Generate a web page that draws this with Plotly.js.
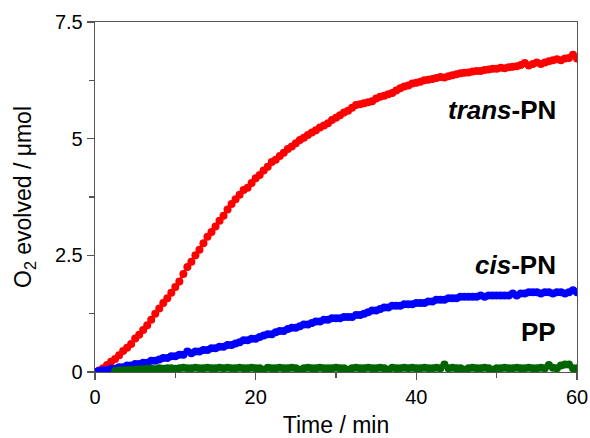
<!DOCTYPE html>
<html>
<head>
<meta charset="utf-8">
<script src="https://cdn.plot.ly/plotly-3.0.1.min.js"></script>
<style>html,body{margin:0;padding:0;background:#fff;}#chart{width:590px;height:438px;}</style>
</head>
<body>
<div id="chart"></div>
<script>
// Time grid (min), sampled every 0.5 min
const time = [0,0.5,1,1.5,2,2.5,3,3.5,4,4.5,5,5.5,6,6.5,7,7.5,8,8.5,9,9.5,10,10.5,11,11.5,12,12.5,13,13.5,14,14.5,15,15.5,16,16.5,17,17.5,18,18.5,19,19.5,20,20.5,21,21.5,22,22.5,23,23.5,24,24.5,25,25.5,26,26.5,27,27.5,28,28.5,29,29.5,30,30.5,31,31.5,32,32.5,33,33.5,34,34.5,35,35.5,36,36.5,37,37.5,38,38.5,39,39.5,40,40.5,41,41.5,42,42.5,43,43.5,44,44.5,45,45.5,46,46.5,47,47.5,48,48.5,49,49.5,50,50.5,51,51.5,52,52.5,53,53.5,54,54.5,55,55.5,56,56.5,57,57.5,58,58.5,59,59.5,60];

// O2 evolved (µmol)
const transPN = [0,0.03,0.08,0.15,0.22,0.28,0.36,0.45,0.52,0.6,0.72,0.8,0.9,1.0,1.12,1.25,1.36,1.48,1.58,1.7,1.82,1.94,2.1,2.25,2.36,2.5,2.62,2.76,2.9,3.0,3.12,3.24,3.35,3.48,3.6,3.7,3.8,3.9,3.95,4.05,4.15,4.22,4.32,4.4,4.5,4.55,4.63,4.7,4.78,4.83,4.9,4.97,5.02,5.08,5.13,5.18,5.24,5.28,5.33,5.4,5.45,5.5,5.56,5.6,5.66,5.72,5.74,5.76,5.78,5.8,5.86,5.9,5.92,5.95,5.98,6.03,6.08,6.12,6.14,6.18,6.2,6.22,6.25,6.26,6.28,6.3,6.32,6.31,6.34,6.36,6.38,6.4,6.41,6.42,6.44,6.45,6.45,6.47,6.48,6.5,6.5,6.52,6.51,6.53,6.54,6.55,6.58,6.62,6.57,6.6,6.63,6.6,6.63,6.66,6.68,6.7,6.68,6.72,6.73,6.8,6.72];

const cisPN = [0,0.02,0.04,0.04,0.07,0.07,0.1,0.1,0.14,0.14,0.17,0.17,0.2,0.2,0.24,0.24,0.27,0.3,0.3,0.34,0.34,0.37,0.37,0.44,0.4,0.44,0.44,0.47,0.47,0.51,0.51,0.54,0.54,0.58,0.58,0.61,0.64,0.68,0.68,0.71,0.71,0.75,0.78,0.81,0.81,0.85,0.88,0.88,0.92,0.95,0.95,0.98,1.02,1.02,1.05,1.08,1.08,1.12,1.12,1.15,1.15,1.15,1.18,1.18,1.18,1.22,1.22,1.25,1.28,1.32,1.32,1.35,1.38,1.38,1.42,1.42,1.42,1.45,1.45,1.45,1.48,1.48,1.48,1.51,1.51,1.55,1.55,1.55,1.58,1.58,1.58,1.61,1.61,1.61,1.61,1.61,1.64,1.61,1.64,1.64,1.64,1.64,1.64,1.64,1.68,1.64,1.68,1.68,1.71,1.71,1.71,1.68,1.71,1.71,1.68,1.71,1.71,1.68,1.71,1.75,1.71];

const PP = [null,null,null,null,null,0.02,0.03,0.04,0.04,0.05,0.05,0.06,0.06,0.07,0.07,0.06,0.08,0.07,0.08,0.08,0.07,0.08,0.09,0.08,0.08,0.09,0.08,0.08,0.09,0.08,0.08,0.09,0.08,0.09,0.08,0.08,0.09,0.08,0.08,0.09,0.08,0.08,0.05,0.09,0.08,0.08,0.09,0.08,0.08,0.09,0.08,0.05,0.08,0.09,0.08,0.08,0.09,0.08,0.08,0.08,0.09,0.08,0.08,0.05,0.08,0.09,0.08,0.08,0.09,0.08,0.08,0.09,0.08,0.05,0.09,0.08,0.08,0.09,0.08,0.09,0.08,0.08,0.09,0.08,0.08,0.09,0.08,0.16,0.08,0.09,0.08,0.08,0.05,0.08,0.09,0.08,0.08,0.09,0.08,0.05,0.08,0.08,0.09,0.08,0.08,0.09,0.08,0.08,0.09,0.08,0.08,0.09,0.08,0.15,0.09,0.08,0.14,0.16,0.16,0.08,0.08];

const seriesNames = ['trans-PN','cis-PN','PP'];
const seriesColors = ['#ff0000','#0000ff','#006400'];
const seriesValues = [transPN, cisPN, PP];

const FONT = 'Liberation Sans, Arial, sans-serif';

const traces = seriesValues.map((vals, i) => ({
  x: time, y: vals, type: 'scatter', mode: 'lines+markers', name: seriesNames[i],
  line: {color: seriesColors[i], width: 2.5},
  marker: {color: seriesColors[i], size: 8},
  connectgaps: false, cliponaxis: true
}));

const axisCommon = {
  showgrid: false, zeroline: false, showline: true, linecolor: '#555', linewidth: 1.3,
  mirror: true, ticks: 'outside', ticklen: 7, tickwidth: 1.3, tickcolor: '#555',
  tickfont: {family: FONT, size: 20, color: '#000'}
};

const layout = {
  width: 590, height: 438,
  margin: {l: 95, r: 13, t: 22, b: 66},
  paper_bgcolor: '#fff', plot_bgcolor: '#fff',
  showlegend: false,
  font: {family: FONT, color: '#000'},
  xaxis: Object.assign({}, axisCommon, {
    range: [0, 60], dtick: 20, tick0: 0,
    minor: {dtick: 10, ticks: 'outside', ticklen: 5, tickcolor: '#555', tickwidth: 1.3},
    title: {text: 'Time / min', font: {family: FONT, size: 23, color: '#000'}, standoff: 10}
  }),
  yaxis: Object.assign({}, axisCommon, {
    range: [0, 7.5], dtick: 2.5, tick0: 0,
    minor: {dtick: 1.25, ticks: 'outside', ticklen: 5, tickcolor: '#555', tickwidth: 1.3},
    title: {text: 'O<sub>2</sub> evolved / μmol', font: {family: FONT, size: 23, color: '#000'}, standoff: 16}
  }),
  annotations: [
    {x: 57.6, y: 5.61, xref: 'x', yref: 'y', xanchor: 'right', yanchor: 'middle', showarrow: false,
     text: '<b><i>trans</i>-PN</b>', font: {family: FONT, size: 26, color: '#000'}},
    {x: 57.6, y: 2.29, xref: 'x', yref: 'y', xanchor: 'right', yanchor: 'middle', showarrow: false,
     text: '<b><i>cis</i>-PN</b>', font: {family: FONT, size: 26, color: '#000'}},
    {x: 57.6, y: 0.86, xref: 'x', yref: 'y', xanchor: 'right', yanchor: 'middle', showarrow: false,
     text: '<b>PP</b>', font: {family: FONT, size: 26, color: '#000'}}
  ]
};

Plotly.newPlot('chart', traces, layout, {displayModeBar: false, staticPlot: true});
</script>
</body>
</html>
